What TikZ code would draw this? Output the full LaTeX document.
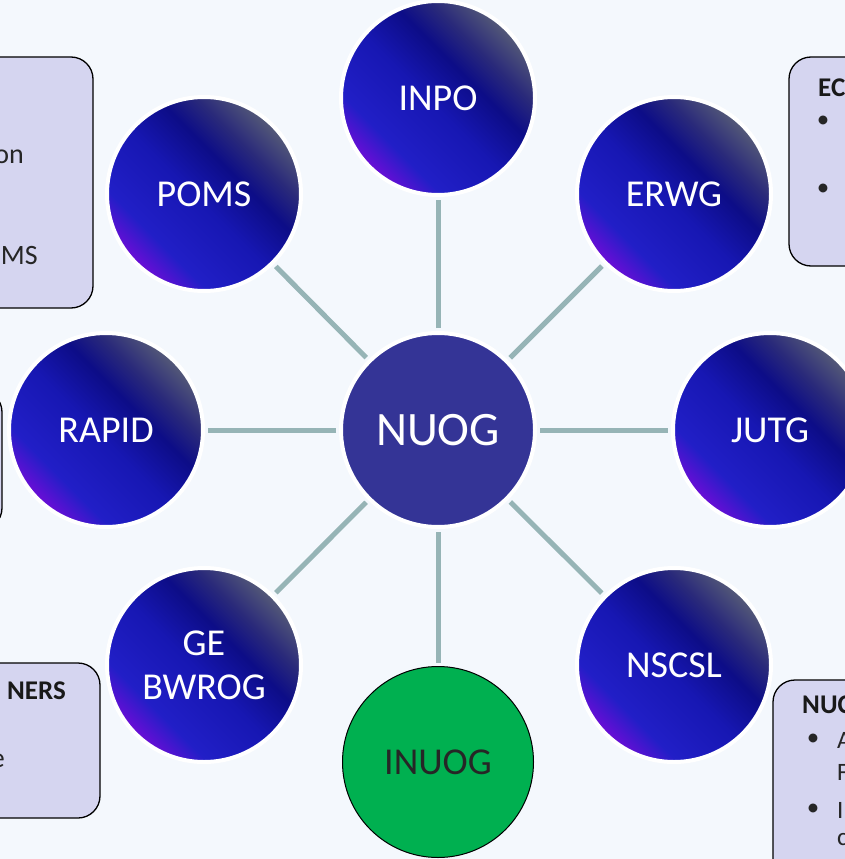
\documentclass[tikz,border=0pt]{standalone}
\usepackage{fontspec}
\setmainfont{Carlito}
\usetikzlibrary{positioning}
\definecolor{boxfill}{RGB}{213,213,240}
\definecolor{linkcol}{RGB}{150,180,182}
\definecolor{hubcol}{RGB}{52,52,150}
\definecolor{goalcol}{RGB}{0,176,80}
\definecolor{pagecol}{RGB}{244,248,253}
\pgfdeclarehorizontalshading{satshade}{100bp}{rgb(0bp)=(0.42,0.05,0.84); rgb(25bp)=(0.42,0.05,0.84); rgb(33bp)=(0.13,0.12,0.78); rgb(48bp)=(0.09,0.09,0.70); rgb(59bp)=(0.05,0.05,0.53); rgb(66bp)=(0.16,0.16,0.48); rgb(75bp)=(0.33,0.35,0.47); rgb(100bp)=(0.33,0.35,0.47)}

\begin{document}
\begin{tikzpicture}[x=1pt,y=-1pt,
  sat/.style={circle, minimum size=194pt, inner sep=0pt, draw=white, line width=4pt,
    shading=satshade, shading angle=45, text=white, align=center,
    font=\fontsize{38}{44}\selectfont},
  hub/.style={circle, minimum size=194pt, inner sep=0pt, draw=white, line width=4pt,
    fill=hubcol, text=white, font=\fontsize{48}{52}\selectfont},
  goal/.style={circle, minimum size=191pt, inner sep=0pt, draw=black, line width=1pt,
    fill=goalcol, text=black!85, font=\fontsize{38}{44}\selectfont},
  link/.style={draw=linkcol, line width=5pt, shorten <=3pt, shorten >=3pt},
  notebox/.style={draw=black, line width=1.3pt, fill=boxfill, rounded corners=22pt},
  notetext/.style={inner sep=0pt, text=black!85, font=\fontsize{28}{32}\selectfont},
  notehead/.style={inner sep=0pt, text=black!90, font=\bfseries\fontsize{27}{30}\selectfont},
  notebody/.style={inner sep=0pt, text=black!85, font=\fontsize{25}{28}\selectfont}]

  \path[use as bounding box, fill=pagecol] (0,0) rectangle (845,859);
  \clip (0,0) rectangle (845,859);

  % side boxes, cut by the page edge
  \draw[notebox] (-60,57) rectangle (93,308);
  \draw[notebox] (789,57) rectangle (900,266);
  \draw[notebox] (-60,390) rectangle (2,530);
  \draw[notebox] (-60,663) rectangle (100,818);
  \draw[notebox] (773,680) rectangle (900,920);

  \node[notetext, anchor=east] (pomsa) at (24,157) {on};
  \node[notetext, anchor=east] (pomsb) at (38,256) {OMS};
  \node[notehead, anchor=west] (echead) at (818,88) {EC};
  \node[notebody] (ecbula) at (823,122) {\textbullet};
  \node[notebody] (ecbulb) at (823,190) {\textbullet};
  \node[notehead, anchor=east] (parthead) at (66,691) {NERS};
  \node[notetext, anchor=east] (parta) at (5,761) {e};
  \node[notehead, anchor=west] (nuhead) at (802,705) {NUC};
  \node[notebody] (nubula) at (813,740) {\textbullet};
  \node[notebody, anchor=west] (nua) at (837,740) {A};
  \node[notebody, anchor=west] (nub) at (837,772) {F};
  \node[notebody] (nubulb) at (813,810) {\textbullet};
  \node[notebody, anchor=west] (nuc) at (837,810) {I};
  \node[notebody, anchor=west] (nud) at (837,840) {c};

  % hub and spokes
  \node[hub] (nuog) at (438,430) {NUOG};
  \node[sat] (inpo) at (438,98) {INPO};
  \node[sat] (erwg) at (674,194) {ERWG};
  \node[sat] (jutg) at (770,430) {JUTG};
  \node[sat] (nscsl) at (674,665) {NSCSL};
  \node[goal] (inuog) at (438,762) {INUOG};
  \node[sat] (gebwrog) at (204,665) {GE\\BWROG};
  \node[sat] (rapid) at (106,430) {RAPID};
  \node[sat] (poms) at (204,194) {POMS};

  \foreach \s in {inpo,erwg,jutg,nscsl,inuog,gebwrog,rapid,poms}
    \draw[link] (nuog) -- (\s);
\end{tikzpicture}
\end{document}
